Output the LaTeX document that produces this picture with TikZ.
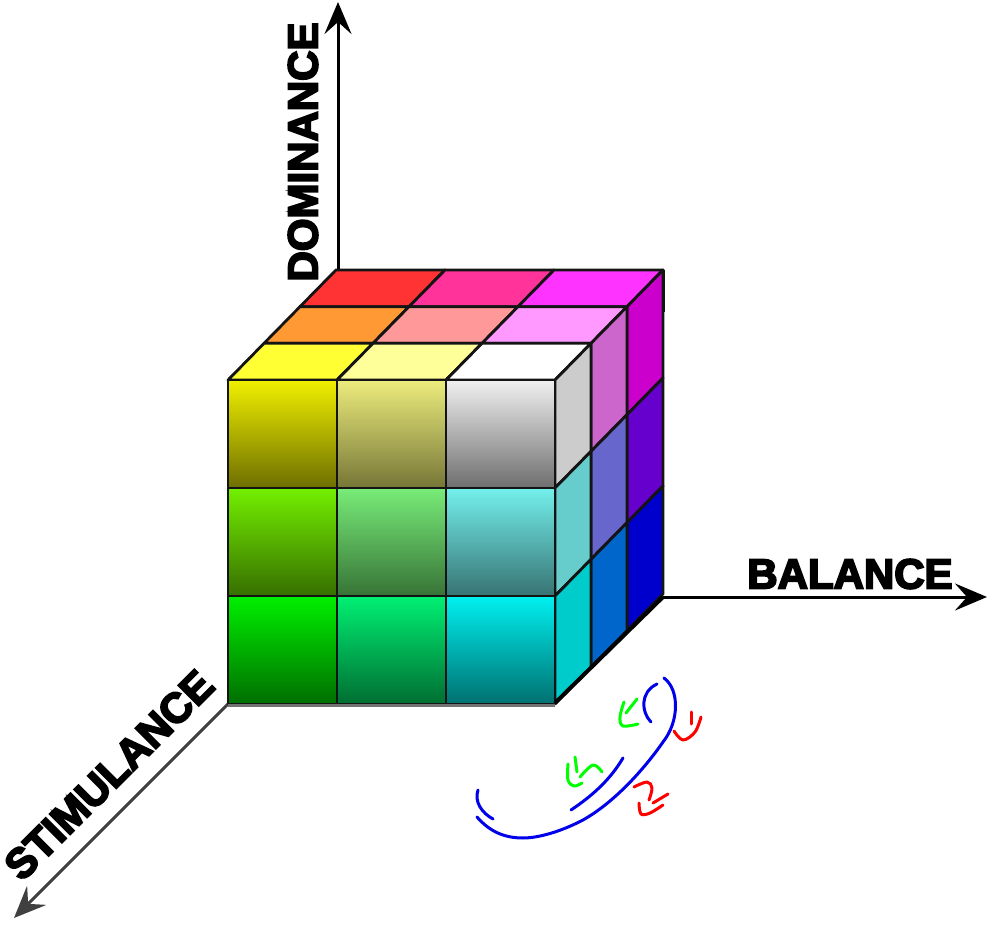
\documentclass[tikz,border=0pt]{standalone}
\usepackage{fontspec}
\usetikzlibrary{arrows.meta}
\newfontfamily\lab{Liberation Sans}[UprightFont=* Bold,FakeBold=4.5]
\definecolor{edgec}{HTML}{141414}
\newcommand{\frontcell}[4]{% col,row,top,bottom
  \pgfmathsetmacro{\xa}{228+109*#1}\pgfmathsetmacro{\xb}{\xa+109}
  \pgfmathsetmacro{\ya}{380+108*#2}\pgfmathsetmacro{\yb}{\ya+108}
  \shade[top color=#3,bottom color=#4] (\xa,\ya) rectangle (\xb,\yb);
  \draw[cubeedge] (\xa,\ya) rectangle (\xb,\yb);}
\newcommand{\topcell}[3]{% col,depth,fill
  \pgfmathsetmacro{\xa}{228+109*#1+36*#2}\pgfmathsetmacro{\ya}{380-36.67*#2}
  \draw[cubeedge,fill=#3] (\xa,\ya) -- ++(109,0) -- ++(36,-36.67) -- ++(-109,0) -- cycle;}
\newcommand{\sidecell}[3]{% depth,row,fill
  \pgfmathsetmacro{\xa}{555+36*#1}\pgfmathsetmacro{\ya}{380+108*#2-36.67*#1}
  \draw[cubeedge,fill=#3] (\xa,\ya) -- ++(36,-36.67) -- ++(0,108) -- ++(-36,36.67) -- cycle;}
\tikzset{
  cubeedge/.style={draw=edgec,line width=2.8pt,line join=round},
  axisline/.style={line width=3pt,draw=black,-{Stealth[length=32pt,width=27pt,inset=12pt]}},
  axislabel/.style={font=\lab\fontsize{42}{42}\selectfont,inner sep=0pt,text=black},
  penblue/.style={draw=blue!92!black,line width=3pt,line cap=round,line join=round},
  pengreen/.style={draw=green,line width=3pt,line cap=round,line join=round},
  penred/.style={draw=red,line width=3pt,line cap=round,line join=round}
}
\begin{document}
\begin{tikzpicture}[x=1pt,y=-1pt]
\useasboundingbox (0,0) rectangle (989,925);
\coordinate (backcorner) at (338,270);
\coordinate (rightcorner) at (663,597);
\coordinate (frontcorner) at (228,704);
\coordinate (domend) at (338,2);
\coordinate (balend) at (987,597);
\coordinate (stiend) at (14,918);
% axes
\draw[axisline] (backcorner) -- (domend);
\draw[axisline] (rightcorner) -- (balend);
\draw[axisline,draw=black!75] (frontcorner) -- (stiend);
% top
\definecolor{t00}{HTML}{FF3333}\definecolor{t10}{HTML}{FF3399}\definecolor{t20}{HTML}{FF33FF}
\definecolor{t01}{HTML}{FF9933}\definecolor{t11}{HTML}{FF9999}\definecolor{t21}{HTML}{FF99FF}
\definecolor{t02}{HTML}{FFFF33}\definecolor{t12}{HTML}{FFFF99}\definecolor{t22}{HTML}{FFFFFF}
\topcell{0}{2}{t00}\topcell{1}{2}{t10}\topcell{2}{2}{t20}
\topcell{0}{1}{t01}\topcell{1}{1}{t11}\topcell{2}{1}{t21}
\topcell{0}{0}{t02}\topcell{1}{0}{t12}\topcell{2}{0}{t22}
% side
\definecolor{s00}{HTML}{CCCCCC}\definecolor{s01}{HTML}{66CCCC}\definecolor{s02}{HTML}{00CCCC}
\definecolor{s10}{HTML}{CC66CC}\definecolor{s11}{HTML}{6666CC}\definecolor{s12}{HTML}{0066CC}
\definecolor{s20}{HTML}{CC00CC}\definecolor{s21}{HTML}{6600CC}\definecolor{s22}{HTML}{0000CC}
\sidecell{2}{0}{s20}\sidecell{2}{1}{s21}\sidecell{2}{2}{s22}
\sidecell{1}{0}{s10}\sidecell{1}{1}{s11}\sidecell{1}{2}{s12}
\sidecell{0}{0}{s00}\sidecell{0}{1}{s01}\sidecell{0}{2}{s02}
% front
\definecolor{fa}{RGB}{240,240,0}\definecolor{fab}{RGB}{110,110,0}
\definecolor{fb}{RGB}{236,236,125}\definecolor{fbb}{RGB}{118,118,55}
\definecolor{fc}{RGB}{240,240,240}\definecolor{fcb}{RGB}{110,110,110}
\definecolor{fd}{RGB}{115,240,0}\definecolor{fdb}{RGB}{55,110,0}
\definecolor{fe}{RGB}{120,236,120}\definecolor{feb}{RGB}{55,115,55}
\definecolor{ff}{RGB}{115,240,236}\definecolor{ffb}{RGB}{55,115,115}
\definecolor{fg}{RGB}{0,240,0}\definecolor{fgb}{RGB}{0,110,0}
\definecolor{fh}{RGB}{0,240,115}\definecolor{fhb}{RGB}{0,110,50}
\definecolor{fi}{RGB}{0,240,240}\definecolor{fib}{RGB}{0,112,112}
\frontcell{0}{0}{fa}{fab}\frontcell{1}{0}{fb}{fbb}\frontcell{2}{0}{fc}{fcb}
\frontcell{0}{1}{fd}{fdb}\frontcell{1}{1}{fe}{feb}\frontcell{2}{1}{ff}{ffb}
\frontcell{0}{2}{fg}{fgb}\frontcell{1}{2}{fh}{fhb}\frontcell{2}{2}{fi}{fib}
% heavy outer edges
\draw[line width=3pt,draw=black!55] (228,705) -- (555,705);
\draw[line width=4pt,draw=black] (555,703) -- (663,597);
\draw[line width=3pt,draw=edgec] (663,270) -- (663,312);
% labels
\node[axislabel] (dominance) at (303,152) {\rotatebox{90}{DOMINANCE}};
\node[axislabel] (balance) at (850,574) {BALANCE};
\node[axislabel,rotate=45] (stimulance) at (109,775) {STIMULANCE};
% pen strokes
\draw[penblue] (664,678) .. controls (680,690) and (679,722) .. (663,742) .. controls (645,768) and (615,802) .. (583,820) .. controls (560,832) and (538,838) .. (523,838) .. controls (505,838) and (490,832) .. (477,817);
\draw[penblue] (657,684) .. controls (640,692) and (641,712) .. (651,722);
\draw[penblue] (623,758) .. controls (610,780) and (592,796) .. (571,810);
\draw[penblue] (478,790) .. controls (474,802) and (482,813) .. (493,819);
\draw[pengreen] (637,699) -- (626,713);
\draw[pengreen] plot[smooth,tension=.6] coordinates {(624,702) (620,717) (623,726) (638,724)};
\draw[pengreen] (575,757) -- (577,772);
\draw[pengreen] plot[smooth,tension=.6] coordinates {(568,764) (568,780) (574,786) (582,783)};
\draw[pengreen] plot[smooth,tension=.6] coordinates {(580,777) (593,765) (602,772)};
\draw[penred] (691,712) -- (691,724);
\draw[penred] plot[smooth,tension=.6] coordinates {(674,731) (683,740) (695,732) (701,717)};
\draw[penred] plot[smooth,tension=.6] coordinates {(634,787) (647,782) (652,788) (649,800)};
\draw[penred] (653,803) -- (668,794);
\draw[penred] plot[smooth,tension=.6] coordinates {(639,803) (641,814) (650,813) (663,805)};
\end{tikzpicture}
\end{document}
